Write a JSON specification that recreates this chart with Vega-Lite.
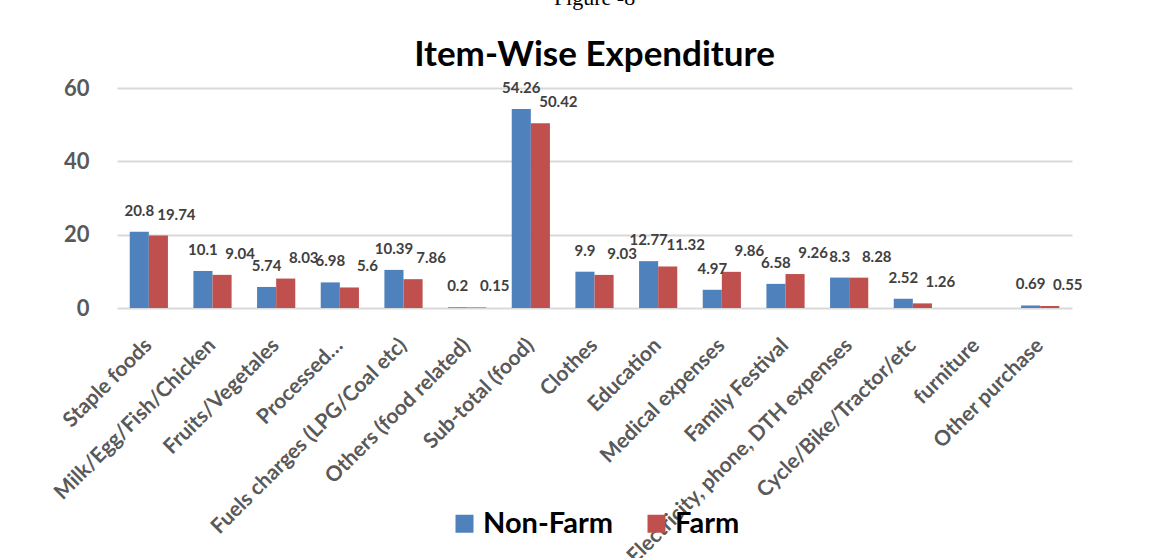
{
  "$schema": "https://vega.github.io/schema/vega-lite/v6.json",
  "width": 955,
  "height": 220,
  "autosize": {"type": "none"},
  "padding": {"left": 117, "top": 88, "right": 88, "bottom": 250},
  "background": "white",
  "title": {
    "text": "Figure -8",
    "subtitle": "Item-Wise Expenditure",
    "anchor": "middle",
    "font": "Liberation Serif",
    "fontSize": 22,
    "fontWeight": "normal",
    "color": "#000000",
    "subtitleFont": "Lato",
    "subtitleFontSize": 35,
    "subtitleFontWeight": "bold",
    "subtitleColor": "#000000",
    "subtitlePadding": 28,
    "offset": 3
  },
  "data": {
    "values": [
      {"item": "Staple foods", "series": "Non-Farm", "value": 20.8},
      {"item": "Staple foods", "series": "Farm", "value": 19.74},
      {"item": "Milk/Egg/Fish/Chicken", "series": "Non-Farm", "value": 10.1},
      {"item": "Milk/Egg/Fish/Chicken", "series": "Farm", "value": 9.04},
      {"item": "Fruits/Vegetales", "series": "Non-Farm", "value": 5.74},
      {"item": "Fruits/Vegetales", "series": "Farm", "value": 8.03},
      {"item": "Processed…", "series": "Non-Farm", "value": 6.98},
      {"item": "Processed…", "series": "Farm", "value": 5.6},
      {"item": "Fuels charges (LPG/Coal etc)", "series": "Non-Farm", "value": 10.39},
      {"item": "Fuels charges (LPG/Coal etc)", "series": "Farm", "value": 7.86},
      {"item": "Others (food related)", "series": "Non-Farm", "value": 0.2},
      {"item": "Others (food related)", "series": "Farm", "value": 0.15},
      {"item": "Sub-total (food)", "series": "Non-Farm", "value": 54.26},
      {"item": "Sub-total (food)", "series": "Farm", "value": 50.42},
      {"item": "Clothes", "series": "Non-Farm", "value": 9.9},
      {"item": "Clothes", "series": "Farm", "value": 9.03},
      {"item": "Education", "series": "Non-Farm", "value": 12.77},
      {"item": "Education", "series": "Farm", "value": 11.32},
      {"item": "Medical expenses", "series": "Non-Farm", "value": 4.97},
      {"item": "Medical expenses", "series": "Farm", "value": 9.86},
      {"item": "Family Festival", "series": "Non-Farm", "value": 6.58},
      {"item": "Family Festival", "series": "Farm", "value": 9.26},
      {"item": "Electricity, phone, DTH expenses", "series": "Non-Farm", "value": 8.3},
      {"item": "Electricity, phone, DTH expenses", "series": "Farm", "value": 8.28},
      {"item": "Cycle/Bike/Tractor/etc", "series": "Non-Farm", "value": 2.52},
      {"item": "Cycle/Bike/Tractor/etc", "series": "Farm", "value": 1.26},
      {"item": "Other purchase", "series": "Non-Farm", "value": 0.69},
      {"item": "Other purchase", "series": "Farm", "value": 0.55}
    ]
  },
  "encoding": {
    "x": {
      "field": "item",
      "type": "nominal",
      "sort": null,
      "scale": {
        "domain": ["Staple foods", "Milk/Egg/Fish/Chicken", "Fruits/Vegetales", "Processed…", "Fuels charges (LPG/Coal etc)", "Others (food related)", "Sub-total (food)", "Clothes", "Education", "Medical expenses", "Family Festival", "Electricity, phone, DTH expenses", "Cycle/Bike/Tractor/etc", "furniture", "Other purchase"],
        "paddingInner": 0.4,
        "paddingOuter": 0.2
      },
      "axis": {
        "title": null,
        "labelAngle": -45,
        "labelAlign": "right",
        "labelBaseline": "middle",
        "labelFont": "Lato",
        "labelFontSize": 21,
        "labelFontWeight": "bold",
        "labelColor": "#595959",
        "labelPadding": 34,
        "labelOffset": 0,
        "labelOverlap": false,
        "labelLimit": 400,
        "domain": false,
        "ticks": false,
        "grid": false
      }
    },
    "xOffset": {"field": "series", "type": "nominal", "sort": ["Non-Farm", "Farm"], "scale": {"domain": ["Non-Farm", "Farm"]}},
    "y": {
      "field": "value",
      "type": "quantitative",
      "scale": {"domain": [0, 60]},
      "axis": {
        "title": null,
        "values": [0, 20, 40, 60],
        "labelFont": "Lato",
        "labelFontSize": 22,
        "labelFontWeight": "bold",
        "labelColor": "#595959",
        "labelPadding": 28,
        "domain": false,
        "ticks": false,
        "gridColor": "#D9D9D9",
        "gridWidth": 2
      }
    }
  },
  "layer": [
    {
      "mark": {"type": "bar", "stroke": null},
      "encoding": {
        "color": {
          "field": "series",
          "type": "nominal",
          "scale": {"domain": ["Non-Farm", "Farm"], "range": ["#4F81BD", "#C0504D"]},
          "legend": {
            "title": null,
            "orient": "bottom",
            "direction": "horizontal",
            "symbolType": "square",
            "symbolSize": 324,
            "symbolStrokeWidth": 0,
            "labelFont": "Lato",
            "labelFontSize": 29,
            "labelFontWeight": "bold",
            "labelColor": "#000000",
            "columnPadding": 28,
            "offset": -58
          }
        }
      }
    },
    {
      "transform": [{"filter": "datum.series === 'Non-Farm'"}],
      "mark": {"type": "text", "baseline": "bottom", "dy": -13, "font": "Lato", "fontSize": 15, "fontWeight": "bold", "color": "#404040"},
      "encoding": {"text": {"field": "value", "type": "quantitative"}}
    },
    {
      "transform": [{"filter": "datum.series === 'Farm'"}],
      "mark": {"type": "text", "baseline": "bottom", "dy": -13, "dx": 18, "font": "Lato", "fontSize": 15, "fontWeight": "bold", "color": "#404040"},
      "encoding": {"text": {"field": "value", "type": "quantitative"}}
    }
  ],
  "config": {
    "view": {"stroke": null},
    "legend": {"layout": {"bottom": {"anchor": "middle"}}}
  }
}
